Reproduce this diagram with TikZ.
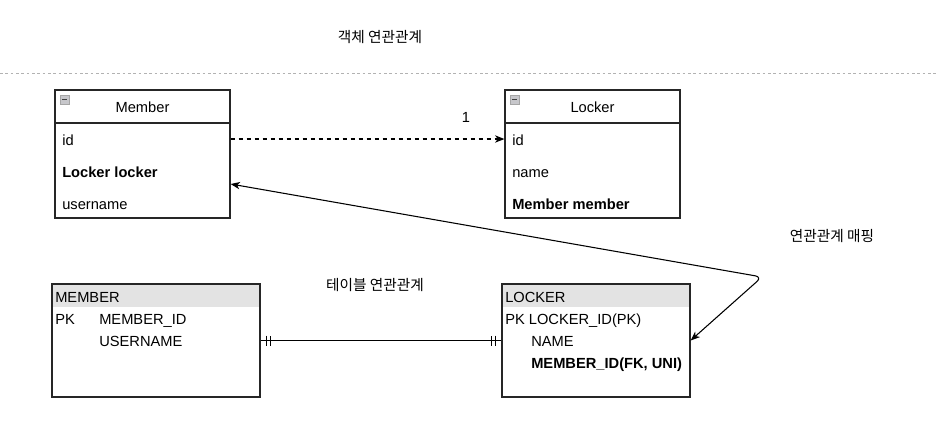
\documentclass[tikz,border=0pt]{standalone}
\usepackage{fontspec}
\setmainfont{Liberation Sans}
\newfontfamily\kr{Noto Sans CJK KR}
\usetikzlibrary{arrows,arrows.meta}
\tikzset{
	box/.style={draw=black!85, line width=0.9pt, inner sep=0pt},
	field/.style={anchor=west, inner sep=0pt, text height=10.2pt, text depth=0pt},
	hdr/.style={fill=black!11},
	sep/.style={draw=black!30, line width=0.6pt, dash pattern=on 2pt off 2pt},
	link/.style={line width=0.8pt, black},
	krlabel/.style={font=\kr\fontsize{11}{13}\selectfont}
}
\newcommand{\collapseicon}[1]{
	\draw[fill=blue!8!black!22, draw=black!35, line width=0.4pt] (#1) rectangle ++(9,9);
	\draw[black!75, line width=1.3pt] (#1) ++(2,4.5) -- ++(5,0);
}

\begin{document}
\begin{tikzpicture}[x=0.75pt,y=-0.75pt,font=\fontsize{11}{13}\selectfont,>={Stealth[length=7pt,width=5.5pt,inset=2pt]}]
        \useasboundingbox (0,0) rectangle (937,426);
        \node[krlabel] (objTitle) at (380,37) {객체 연관관계};
        \draw[sep] (0,73) -- (937,73);
        % class Member
        \node[box, minimum width=131.25pt, minimum height=96pt] (member) at (142.5,154) {};
        \draw[box] (member.west |- 0,123) -- (member.east |- 0,123);
        \collapseicon{60,95}
        \node[field, anchor=center] (member_h) at (142.5,106) {Member};
        \node[field] (member_id) at (62,139) {id};
        \node[field] (member_locker) at (62,171) {\textbf{Locker locker}};
        \node[field] (member_name) at (62,203) {username};
        % class Locker
        \node[box, minimum width=131.25pt, minimum height=96pt] (locker) at (592.5,154) {};
        \draw[box] (locker.west |- 0,123) -- (locker.east |- 0,123);
        \collapseicon{510,95}
        \node[field, anchor=center] (locker_h) at (592.5,106) {Locker};
        \node[field] (locker_id) at (512,139) {id};
        \node[field] (locker_name) at (512,171) {name};
        \node[field] (locker_member) at (512,203) {\textbf{Member member}};
        \draw[link, dash pattern=on 3pt off 3pt, ->] (member.east |- 0,139) -- (locker.west |- 0,139);
        \node[field, anchor=center] (one) at (466,116) {1};
        % table MEMBER
        \fill[hdr] (52,284) rectangle (260,307);
        \node[box, minimum width=156pt, minimum height=84.75pt] (memberT) at (156,340.5) {};
        \node[field] (memberT_h) at (55,296) {MEMBER};
        \node[field] (memberT_pk) at (55,318) {PK};
        \node[field] (memberT_id) at (99,318) {MEMBER\_ID};
        \node[field] (memberT_name) at (99,340) {USERNAME};
        % table LOCKER
        \fill[hdr] (502,284) rectangle (690,307);
        \node[box, minimum width=141pt, minimum height=84.75pt] (lockerT) at (596,340.5) {};
        \node[field] (lockerT_h) at (505,296) {LOCKER};
        \node[field] (lockerT_pk) at (505,318) {PK LOCKER\_ID(PK)};
        \node[field] (lockerT_name) at (531,340) {NAME};
        \node[field] (lockerT_fk) at (531,362) {\textbf{MEMBER\_ID(FK, UNI)}};
        \node[krlabel] (tableTitle) at (375,285) {테이블 연관관계};
        % one to one
        \draw[link] (memberT.east) -- (lockerT.west);
        \draw[link] (memberT.east) ++(6,-5) -- ++(0,10) ++(4,0) -- ++(0,-10);
        \draw[link] (lockerT.west) ++(-6,-5) -- ++(0,10) ++(-4,0) -- ++(0,-10);
        % mapping
        \coordinate (bend) at (762,277);
        \draw[link, <->, rounded corners=5pt] ([yshift=-22.5pt]member.east) -- (bend) -- (lockerT.east);
        \node[krlabel] (mapTitle) at (832,236) {연관관계 매핑};
\end{tikzpicture}
\end{document}
